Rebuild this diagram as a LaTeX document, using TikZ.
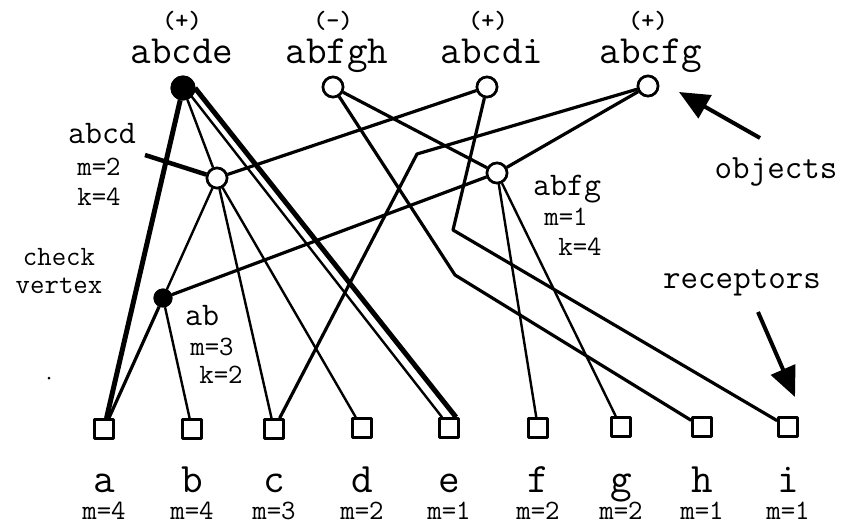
\documentclass[tikz,border=0pt]{standalone}
\usepackage{fontspec}
\usetikzlibrary{arrows.meta,calc}
\begin{document}
\begin{tikzpicture}[x=1pt,y=-1pt,line join=round,
  obj/.style={circle,draw,fill=white,line width=2.6pt,minimum size=20pt,inner sep=0pt},
  objfill/.style={circle,fill=black,draw=black,line width=1pt,minimum size=24pt,inner sep=0pt},
  rec/.style={rectangle,draw,fill=white,line width=3.2pt,minimum size=18.5pt,inner sep=0pt},
  thinE/.style={line width=2.4pt},
  normE/.style={line width=3.2pt},
  thickE/.style={line width=5pt},
  lab/.style={inner sep=0pt,anchor=base},
  sign/.style={lab,font=\fontsize{25}{25}\ttfamily\bfseries},
  topname/.style={lab,font=\fontsize{40}{40}\ttfamily},
  midname/.style={lab,font=\fontsize{33}{33}\ttfamily},
  small/.style={lab,font=\fontsize{28}{28}\ttfamily},
  note/.style={lab,font=\fontsize{34}{34}\ttfamily},
  letter/.style={lab,font=\fontsize{42}{42}\ttfamily},
  pointer/.style={line width=4pt,-{Triangle[length=30pt,width=26pt]}}
]
\useasboundingbox (0,0) rectangle (842,525);

% object vertices (top)
\node[objfill] (abcde) at (183,88) {};
\node[obj] (abfgh) at (333,87) {};
\node[obj] (abcdi) at (487,87) {};
\node[obj] (abcfg) at (648,86) {};
% intermediate vertices
\node[obj] (abcd) at (217,178) {};
\node[obj] (abfg) at (497,173) {};
\node[objfill,minimum size=18pt] (ab) at (163,298) {};
% receptors
\foreach \n/\x/\y in {a/104/429,b/192/429,c/274/429,d/362/428,e/449/428,f/538/428,g/621/427,h/702/427,i/788/427}
  \node[rec] (\n) at (\x,\y) {};

% bend points and free ends
\coordinate (bh) at (455,275);
\coordinate (bi) at (453,230);
\coordinate (bc) at (417,154);
\coordinate (ptr) at (145,155);
\coordinate (objtail) at (760,138);
\coordinate (objtip) at (679,92);
\coordinate (rectail) at (758,312);
\coordinate (rectip) at (795,397);

% edges
\draw[thickE] (abcde) -- (a);
\draw[normE] (ab) -- (a);
\draw[thinE] (ab) -- (b);
\draw[thinE] (abcde) -- (abcd);
\draw[thinE] ($(abcde)+(2,0)$) -- ($(e.north)+(-7,0)$);
\draw[thickE] ($(abcde)+(12,0)$) -- ($(e.north)+(7,0)$);
\draw[thinE] (abcd) -- (ab);
\draw[thinE] (abcd) -- (c);
\draw[thinE] (abcd) -- (d);
\draw[normE] (abcd) -- (abcdi);
\draw[line width=4.5pt] (ptr) -- (abcd);
\draw[normE] (ab) -- (abfg);
\draw[normE] (abfgh) -- (abfg);
\draw[normE] (abcfg) -- (abfg);
\draw[thinE] (abfg) -- (f);
\draw[thinE] (abfg) -- (g);
\draw[normE] (abfgh) -- (bh) -- (h);
\draw[normE] (abcdi) -- (bi) -- (i);
\draw[normE] (abcfg) -- (bc) -- (c);

% redraw vertices on top
\node[objfill] at (abcde) {};
\node[obj] at (abfgh) {};
\node[obj] at (abcdi) {};
\node[obj] at (abcfg) {};
\node[obj] at (abcd) {};
\node[obj] at (abfg) {};
\node[objfill,minimum size=18pt] at (ab) {};

% pointer arrows
\draw[pointer] (objtail) -- (objtip);
\draw[pointer] (rectail) -- (rectip);

% top labels
\node[sign] (s1) at (182,28) {(+)};
\node[sign] (s2) at (333,28) {(-)};
\node[sign] (s3) at (488,28) {(+)};
\node[sign] (s4) at (648,28) {(+)};
\node[topname] (t1) at (182,63) {abcde};
\node[topname] (t2) at (337,63) {abfgh};
\node[topname] (t3) at (492,63) {abcdi};
\node[topname] (t4) at (651,63) {abcfg};

% middle labels
\node[midname] (l1) at (102,143) {abcd};
\node[small] (l1m) at (99,175) {m=2};
\node[small] (l1k) at (99,205) {k=4};
\node[midname] (l2) at (567,195) {abfg};
\node[small] (l2m) at (566,225) {m=1};
\node[small] (l2k) at (580,255) {k=4};
\node[midname] (l3) at (202,325) {ab};
\node[small] (l3m) at (212,355) {m=3};
\node[small] (l3k) at (221,383) {k=2};
\node[small] (cv1) at (59,265) {check};
\node[small] (cv2) at (59,293) {vertex};
\node[note] (ob) at (776,178) {objects};
\node[note] (rc) at (742,288) {receptors};
\fill (49,378) circle (1.5);

% receptor labels
\foreach \n/\x/\m in {a/104/4,b/192/4,c/274/3,d/362/2,e/449/1,f/538/2,g/621/2,h/702/1,i/788/1}{
  \node[letter] at (\x,492) {\n};
  \node[small] at (\x,519) {m=\m};
}
\end{tikzpicture}
\end{document}
